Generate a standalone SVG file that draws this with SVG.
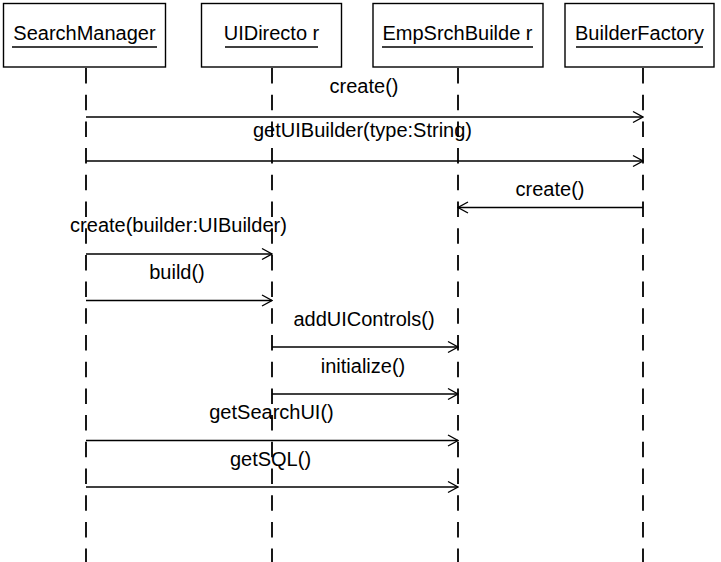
<svg xmlns="http://www.w3.org/2000/svg" width="721" height="562" viewBox="0 0 721 562">
<style>
.box{fill:#fff;stroke:#000;stroke-width:1.4}
.t{font-family:"Liberation Sans",Arial,sans-serif;font-size:20px;fill:#000;text-anchor:middle}
.ul{stroke:#000;stroke-width:1.4}
.life{stroke:#000;stroke-width:1.8;stroke-dasharray:15.5 11.2;fill:none}
.msg{stroke:#000;stroke-width:1.4;fill:none;marker-end:url(#arr)}
</style>
<defs>
<marker id="arr" viewBox="0 0 12 14" refX="11" refY="7" markerWidth="12" markerHeight="14" markerUnits="userSpaceOnUse" orient="auto">
<path d="M1,1.5 L11,7 L1,12.5" fill="none" stroke="#000" stroke-width="1.4"/>
</marker>
</defs>
<rect width="721" height="562" fill="#fff"/>
<g id="lifelines">
<line class="life" x1="86" y1="68" x2="86" y2="562"/>
<line class="life" x1="272" y1="68" x2="272" y2="562"/>
<line class="life" x1="458" y1="68" x2="458" y2="562"/>
<line class="life" x1="643" y1="68" x2="643" y2="562"/>
</g>
<g id="SearchManager">
<rect class="box" x="3.5" y="3.5" width="162" height="63.5"/>
<text class="t" x="84.5" y="40">SearchManager</text>
<line class="ul" x1="12" y1="47" x2="157" y2="47"/>
</g>
<g id="UIDirector">
<rect class="box" x="201.5" y="3.5" width="140" height="63.5"/>
<text class="t" x="271.5" y="40">UIDirecto r</text>
<line class="ul" x1="225" y1="47" x2="318" y2="47"/>
</g>
<g id="EmpSrchBuilder">
<rect class="box" x="373" y="3.5" width="170" height="63.5"/>
<text class="t" x="457.5" y="40">EmpSrchBuilde r</text>
<line class="ul" x1="382" y1="47" x2="533" y2="47"/>
</g>
<g id="BuilderFactory">
<rect class="box" x="565" y="3.5" width="149" height="63.5"/>
<text class="t" x="639.5" y="40">BuilderFactory</text>
<line class="ul" x1="576" y1="47" x2="703" y2="47"/>
</g>
<g id="connectors">
<line class="msg" x1="86" y1="117" x2="643" y2="117"/>
<text class="t" x="364" y="93">create()</text>
<line class="msg" x1="86" y1="161" x2="643" y2="161"/>
<text class="t" x="362.5" y="137">getUIBuilder(type:String)</text>
<line class="msg" x1="643" y1="207.5" x2="458" y2="207.5"/>
<text class="t" x="550" y="196">create()</text>
<line class="msg" x1="86" y1="254" x2="272" y2="254"/>
<text class="t" x="178.5" y="232">create(builder:UIBuilder)</text>
<line class="msg" x1="86" y1="300.5" x2="272" y2="300.5"/>
<text class="t" x="177" y="279">build()</text>
<line class="msg" x1="272" y1="347" x2="458" y2="347"/>
<text class="t" x="364" y="326">addUIControls()</text>
<line class="msg" x1="272" y1="394" x2="458" y2="394"/>
<text class="t" x="363" y="373">initialize()</text>
<line class="msg" x1="86" y1="440.5" x2="458" y2="440.5"/>
<text class="t" x="271.5" y="419">getSearchUI()</text>
<line class="msg" x1="86" y1="487" x2="458" y2="487"/>
<text class="t" x="270.5" y="466">getSQL()</text>
</g>
</svg>
